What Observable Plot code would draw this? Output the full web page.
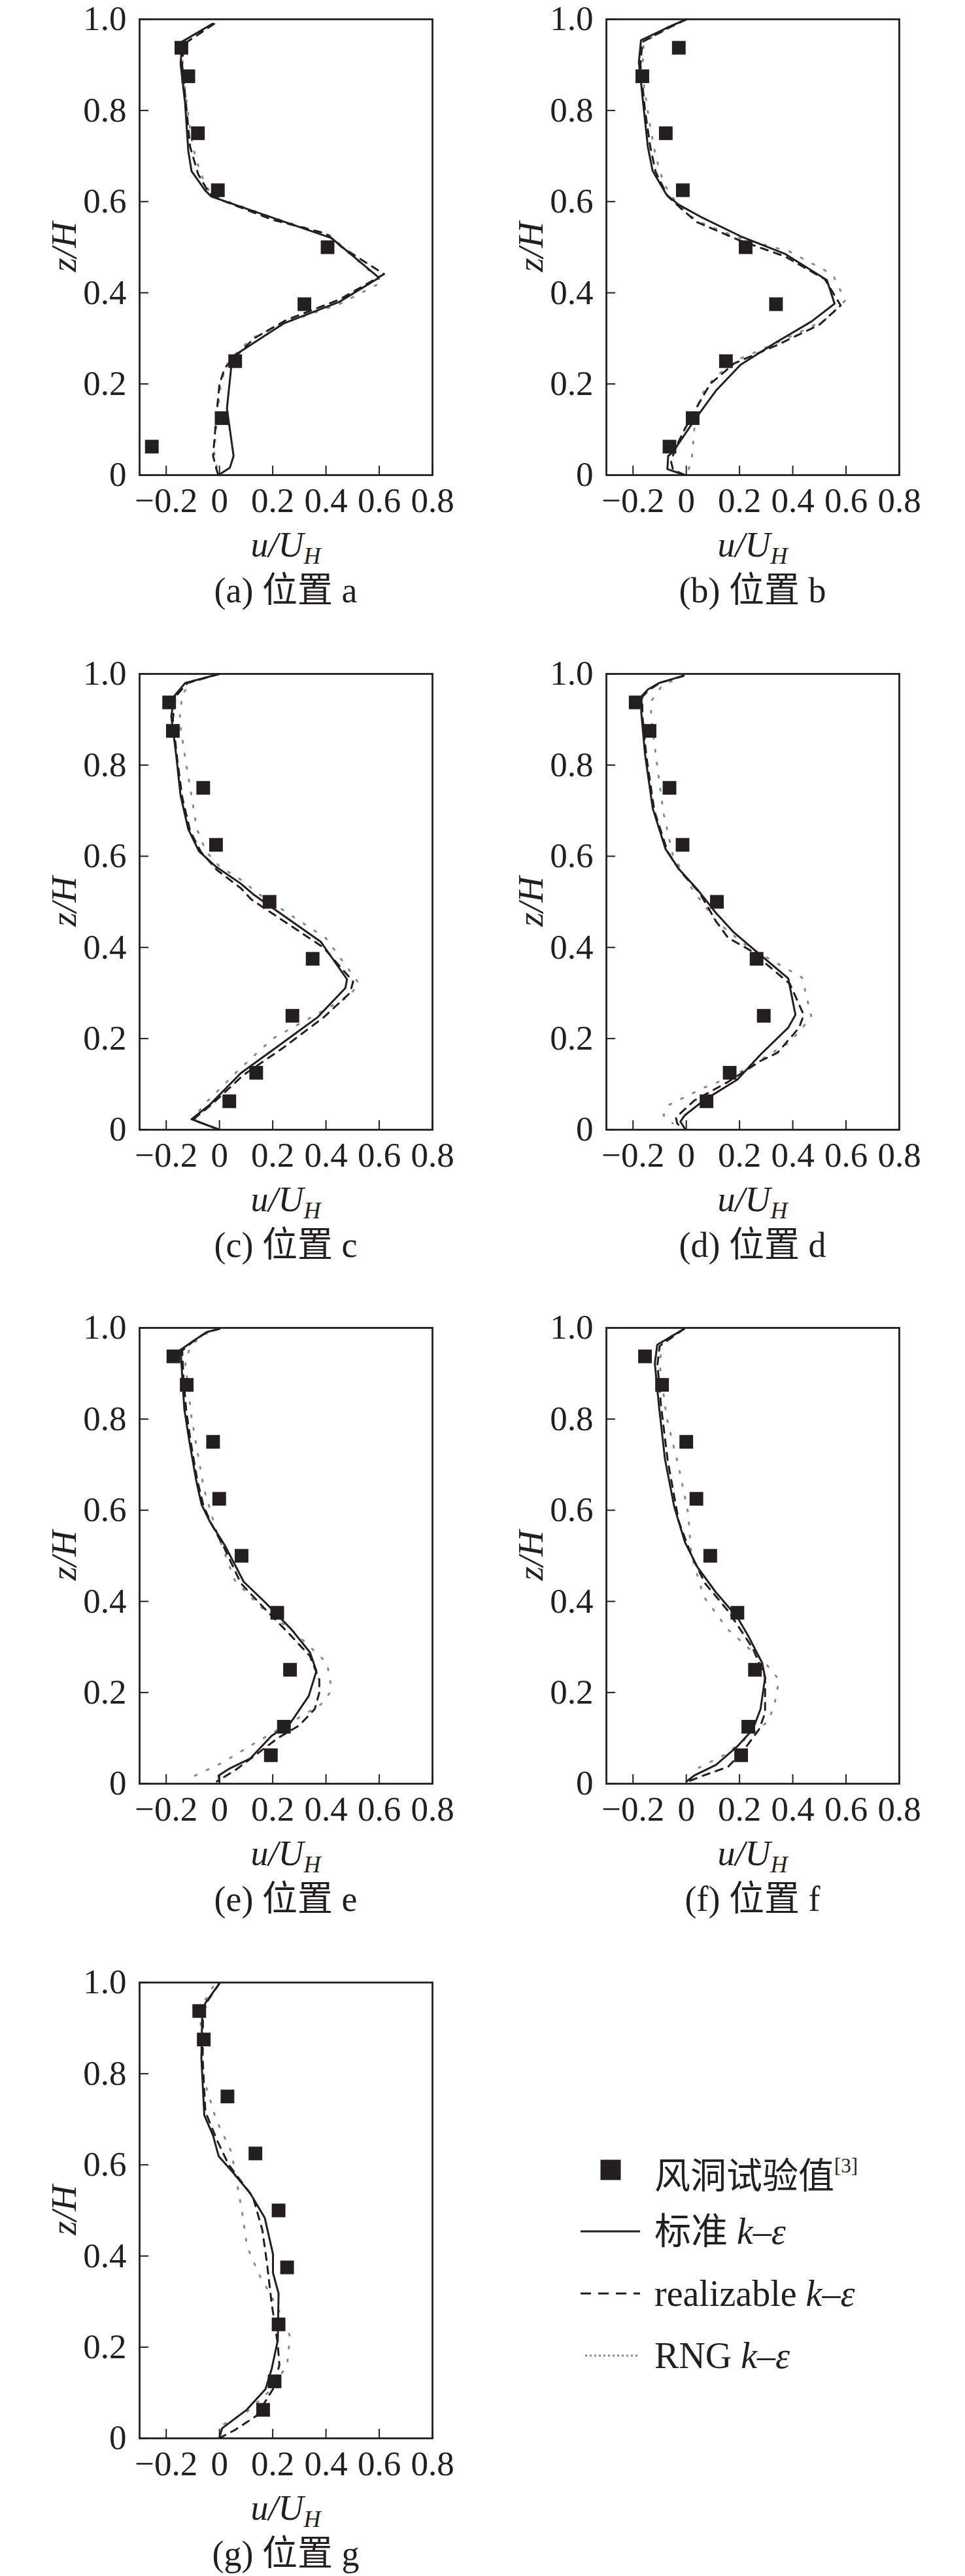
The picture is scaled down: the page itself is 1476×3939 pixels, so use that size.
<!DOCTYPE html>
<html><head><meta charset="utf-8">
<script src="https://cdn.jsdelivr.net/npm/d3@7"></script>
<script src="https://cdn.jsdelivr.net/npm/@observablehq/plot@0.6"></script>
<style>
body{margin:0;background:#fff;}
#wrap{position:relative;width:1476px;height:3939px;background:#fff;overflow:hidden;}
.panel{position:absolute;}
</style></head><body><div id="wrap"></div>
<script>
// ---------- ticks ----------
const xTicks = [-0.2, 0, 0.2, 0.4, 0.6, 0.8];
const xTickLabels = ["−0.2", "0", "0.2", "0.4", "0.6", "0.8"];
const yTicks = [0, 0.2, 0.4, 0.6, 0.8, 1.0];
const yTickLabels = ["0", "0.2", "0.4", "0.6", "0.8", "1.0"];

// ---------- panels ----------
const panelIds = ["a", "b", "c", "d", "e", "f", "g"];
const captions = ["(a) 位置 a", "(b) 位置 b", "(c) 位置 c", "(d) 位置 d", "(e) 位置 e", "(f) 位置 f", "(g) 位置 g"];
const legendLabels = ["风洞试验值", "标准", "realizable", "RNG"];

// ---------- wind tunnel data (z/H levels, u/U_H per position) ----------
const zExp = [0.0625, 0.125, 0.25, 0.375, 0.5, 0.625, 0.75, 0.875, 0.9375];
const exp_a = [-0.254, 0.008, 0.059, 0.319, 0.406, -0.006, -0.081, -0.117, -0.143];
const exp_b = [-0.063, 0.024, 0.149, 0.337, 0.223, -0.013, -0.077, -0.165, -0.028];
const exp_c = [0.037, 0.138, 0.274, 0.35, 0.188, -0.013, -0.061, -0.175, -0.189];
const exp_d = [0.076, 0.163, 0.291, 0.264, 0.115, -0.014, -0.063, -0.138, -0.19];
const exp_e = [0.193, 0.242, 0.265, 0.217, 0.083, -0.001, -0.024, -0.123, -0.173];
const exp_f = [0.206, 0.233, 0.258, 0.192, 0.09, 0.038, 0.0, -0.091, -0.155];
const exp_g = [0.164, 0.207, 0.222, 0.254, 0.222, 0.135, 0.03, -0.059, -0.076];

// ---------- simulated profiles [u/U_H, z/H] ----------
const std_a = [[-0.027,0.99],[-0.140,0.951],[-0.146,0.902],[-0.129,0.815],[-0.117,0.711],[-0.105,0.667],[-0.053,0.624],[-0.030,0.611],[0.421,0.52],[0.599,0.433],[0.45,0.38],[0.242,0.333],[0.057,0.263],[0.045,0.242],[0.028,0.146],[0.053,0.042],[0.039,0.016],[-0.004,0]];
const rlz_a = [[-0.02,0.99],[-0.135,0.945],[-0.14,0.9],[-0.12,0.78],[-0.11,0.72],[-0.08,0.66],[-0.04,0.62],[0.0,0.605],[0.2,0.56],[0.4,0.53],[0.46,0.5],[0.618,0.441],[0.45,0.385],[0.25,0.34],[0.13,0.3],[0.06,0.26],[0.02,0.235],[0.0,0.2],[-0.013,0.12],[-0.024,0.042],[-0.01,0.01],[-0.004,0]];
const rng_a = [[-0.025,0.99],[-0.135,0.945],[-0.14,0.9],[-0.115,0.78],[-0.1,0.72],[-0.07,0.66],[-0.04,0.625],[0.0,0.607],[0.2,0.565],[0.42,0.525],[0.48,0.49],[0.612,0.424],[0.45,0.375],[0.25,0.335],[0.12,0.3],[0.06,0.265],[0.025,0.24],[0.005,0.2],[-0.01,0.12],[-0.02,0.05],[-0.004,0]];

const std_b = [[0.001,1.0],[-0.063,0.984],[-0.170,0.954],[-0.178,0.906],[-0.161,0.811],[-0.144,0.719],[-0.126,0.667],[-0.074,0.615],[-0.028,0.593],[0.053,0.567],[0.204,0.524],[0.372,0.485],[0.528,0.428],[0.557,0.376],[0.47,0.337],[0.331,0.289],[0.204,0.242],[0.111,0.185],[0.030,0.12],[-0.051,0.05],[-0.068,0.042],[-0.071,0.013],[-0.005,0]];
const rlz_b = [[0.0,1.0],[-0.07,0.98],[-0.165,0.95],[-0.172,0.9],[-0.155,0.8],[-0.135,0.72],[-0.115,0.665],[-0.07,0.612],[-0.02,0.585],[0.04,0.555],[0.2,0.515],[0.37,0.48],[0.52,0.43],[0.58,0.372],[0.5,0.33],[0.34,0.285],[0.18,0.245],[0.09,0.2],[0.05,0.16],[-0.005,0.102],[-0.04,0.06],[-0.057,0.03],[-0.05,0.012],[-0.005,0]];
const rng_b = [[0.0,1.0],[-0.07,0.98],[-0.16,0.95],[-0.165,0.88],[-0.14,0.78],[-0.115,0.7],[-0.085,0.64],[-0.04,0.6],[0.0,0.575],[0.05,0.555],[0.2,0.52],[0.39,0.49],[0.55,0.44],[0.597,0.383],[0.52,0.34],[0.34,0.29],[0.18,0.25],[0.1,0.21],[0.05,0.17],[0.03,0.1],[0.02,0.03],[0.0,0]];

const std_c = [[0.0,1.0],[-0.129,0.98],[-0.169,0.952],[-0.181,0.907],[-0.163,0.824],[-0.146,0.733],[-0.117,0.659],[-0.077,0.611],[-0.013,0.577],[0.08,0.54],[0.126,0.517],[0.381,0.412],[0.479,0.33],[0.473,0.311],[0.369,0.247],[0.219,0.183],[0.08,0.124],[-0.036,0.055],[-0.105,0.023],[0.0,0.0]];
const rlz_c = [[0.0,1.0],[-0.12,0.98],[-0.165,0.95],[-0.175,0.9],[-0.16,0.82],[-0.14,0.73],[-0.11,0.655],[-0.07,0.61],[-0.01,0.57],[0.08,0.53],[0.12,0.505],[0.39,0.4],[0.502,0.325],[0.49,0.3],[0.392,0.247],[0.24,0.18],[0.09,0.12],[-0.03,0.055],[-0.1,0.022],[0.0,0]];
const rng_c = [[0.0,1.0],[-0.1,0.985],[-0.14,0.955],[-0.15,0.9],[-0.13,0.82],[-0.105,0.733],[-0.085,0.66],[-0.05,0.61],[0.0,0.578],[0.09,0.545],[0.14,0.52],[0.4,0.42],[0.525,0.32],[0.48,0.29],[0.37,0.255],[0.2,0.2],[0.07,0.13],[-0.05,0.06],[-0.1,0.025],[-0.01,0]];

const std_d = [[-0.01,0.996],[-0.103,0.98],[-0.144,0.966],[-0.169,0.95],[-0.169,0.916],[-0.155,0.824],[-0.126,0.705],[-0.078,0.616],[-0.028,0.572],[0.042,0.527],[0.111,0.476],[0.175,0.435],[0.239,0.403],[0.383,0.332],[0.41,0.252],[0.383,0.224],[0.279,0.165],[0.192,0.11],[0.065,0.064],[-0.005,0.032],[-0.022,0.018],[-0.005,0.002]];
const rlz_d = [[-0.01,0.996],[-0.1,0.98],[-0.14,0.965],[-0.165,0.95],[-0.165,0.91],[-0.15,0.82],[-0.12,0.7],[-0.07,0.61],[-0.02,0.565],[0.05,0.52],[0.111,0.458],[0.157,0.421],[0.239,0.394],[0.389,0.32],[0.441,0.252],[0.424,0.224],[0.343,0.169],[0.279,0.151],[0.157,0.105],[0.03,0.064],[-0.039,0.027],[-0.034,0.014],[-0.016,0.002]];
const rng_d = [[-0.01,0.996],[-0.09,0.975],[-0.132,0.94],[-0.132,0.907],[-0.115,0.824],[-0.086,0.696],[-0.051,0.604],[0.019,0.531],[0.111,0.458],[0.227,0.403],[0.435,0.334],[0.47,0.247],[0.389,0.192],[0.181,0.119],[0.065,0.092],[-0.063,0.055],[-0.086,0.032],[-0.051,0.014]];

const std_e = [[0,0.998],[-0.047,0.991],[-0.094,0.973],[-0.146,0.952],[-0.14,0.895],[-0.132,0.822],[-0.115,0.758],[-0.088,0.667],[-0.067,0.612],[-0.036,0.575],[0.022,0.521],[0.091,0.443],[0.173,0.397],[0.271,0.338],[0.34,0.288],[0.364,0.247],[0.335,0.192],[0.265,0.132],[0.196,0.105],[0.115,0.055],[0.034,0.032],[-0.003,0.018],[0.0,0.003]];
const rlz_e = [[0,0.998],[-0.05,0.99],[-0.1,0.97],[-0.14,0.95],[-0.135,0.89],[-0.125,0.82],[-0.108,0.75],[-0.083,0.665],[-0.06,0.61],[-0.03,0.57],[0.02,0.515],[0.08,0.44],[0.16,0.39],[0.26,0.33],[0.34,0.28],[0.375,0.228],[0.375,0.2],[0.358,0.164],[0.3,0.128],[0.219,0.1],[0.138,0.064],[0.06,0.03],[-0.01,0.005]];
const rng_e = [[0,0.998],[-0.06,0.985],[-0.11,0.96],[-0.128,0.922],[-0.105,0.804],[-0.059,0.648],[-0.013,0.557],[0.057,0.447],[0.15,0.39],[0.288,0.329],[0.404,0.265],[0.422,0.205],[0.381,0.174],[0.27,0.135],[0.138,0.091],[0.01,0.046],[-0.105,0.014]];

const std_f = [[-0.008,0.998],[-0.109,0.963],[-0.118,0.922],[-0.103,0.831],[-0.08,0.712],[-0.045,0.607],[-0.005,0.53],[0.042,0.475],[0.111,0.42],[0.192,0.365],[0.233,0.324],[0.285,0.265],[0.296,0.233],[0.279,0.164],[0.25,0.119],[0.192,0.082],[0.111,0.041],[0.03,0.018],[0.001,0.005]];
const rlz_f = [[-0.008,0.998],[-0.1,0.96],[-0.108,0.92],[-0.095,0.83],[-0.07,0.71],[-0.028,0.575],[0.02,0.5],[0.07,0.44],[0.157,0.379],[0.25,0.297],[0.296,0.233],[0.296,0.155],[0.273,0.119],[0.215,0.073],[0.157,0.037],[0.065,0.018],[0.007,0.005]];
const rng_f = [[-0.008,0.998],[-0.09,0.97],[-0.1,0.92],[-0.074,0.804],[-0.028,0.694],[0.007,0.594],[0.019,0.502],[0.065,0.411],[0.157,0.338],[0.296,0.265],[0.349,0.228],[0.331,0.174],[0.308,0.137],[0.146,0.064],[0.019,0.027]];

const std_g = [[0,0.998],[-0.053,0.955],[-0.065,0.924],[-0.068,0.834],[-0.057,0.709],[-0.024,0.664],[-0.003,0.619],[0.045,0.587],[0.115,0.538],[0.17,0.484],[0.201,0.404],[0.201,0.363],[0.222,0.318],[0.219,0.215],[0.196,0.152],[0.173,0.108],[0.103,0.063],[0.01,0.022],[0,0.002]];
const rlz_g = [[0,0.998],[-0.05,0.955],[-0.062,0.92],[-0.063,0.83],[-0.053,0.717],[-0.01,0.655],[0.034,0.601],[0.126,0.529],[0.161,0.457],[0.178,0.386],[0.196,0.296],[0.219,0.206],[0.225,0.161],[0.201,0.108],[0.138,0.049],[0.057,0.018],[0.005,0.002]];
const rng_g = [[-0.024,0.991],[-0.06,0.955],[-0.071,0.915],[-0.059,0.789],[-0.013,0.7],[0.045,0.628],[0.086,0.493],[0.103,0.422],[0.149,0.359],[0.184,0.323],[0.225,0.278],[0.265,0.224],[0.254,0.161],[0.196,0.108],[0.103,0.058],[-0.013,0.022]];

const expSeries = [exp_a, exp_b, exp_c, exp_d, exp_e, exp_f, exp_g];
const stdSeries = [std_a, std_b, std_c, std_d, std_e, std_f, std_g];
const rlzSeries = [rlz_a, rlz_b, rlz_c, rlz_d, rlz_e, rlz_f, rlz_g];
const rngSeries = [rng_a, rng_b, rng_c, rng_d, rng_e, rng_f, rng_g];

// ---------- styling ----------
const INK = "#231f20";
const GREY = "#8a8a8a";
const SERIF = "'Liberation Serif', 'Times New Roman', 'Noto Sans CJK SC', serif";
const W = 738, H = 1000, ML = 213, MR = 77, MT = 29, MB = 274;
const frameW = W - ML - MR, frameH = H - MT - MB;

const wrap = document.getElementById("wrap");

panelIds.forEach((id, i) => {
  const row = Math.floor(i / 2), col = i % 2;
  const expData = zExp.map((z, k) => ({u: expSeries[i][k], z}));
  const chart = Plot.plot({
    width: W, height: H,
    marginLeft: ML, marginRight: MR, marginTop: MT, marginBottom: MB,
    style: {fontFamily: SERIF, fontSize: "53px", color: INK, background: "transparent", overflow: "visible"},
    x: {domain: [-0.3, 0.8]},
    y: {domain: [0, 1]},
    marks: [
      Plot.axisX(xTicks, {tickSize: -14, tickPadding: 33, strokeWidth: 2, tickFormat: d => xTickLabels[xTicks.indexOf(d)], label: null, fontSize: 53}),
      Plot.axisY(yTicks, {tickSize: -14, tickPadding: 34, strokeWidth: 2, tickFormat: d => yTickLabels[yTicks.indexOf(d)], label: null, fontSize: 53}),
      Plot.line(rngSeries[i], {x: d => d[0], y: d => d[1], stroke: GREY, strokeWidth: 3, strokeDasharray: "3,17"}),
      Plot.line(rlzSeries[i], {x: d => d[0], y: d => d[1], stroke: INK, strokeWidth: 3, strokeDasharray: "11,10"}),
      Plot.line(stdSeries[i], {x: d => d[0], y: d => d[1], stroke: INK, strokeWidth: 3}),
      Plot.dot(expData, {x: "u", y: "z", symbol: "square", r: 11.8, fill: INK, stroke: null}),
      Plot.frame({stroke: INK, strokeWidth: 2.8})
    ]
  });
  chart.classList.add("panel");
  chart.style.left = (col * 714) + "px";
  chart.style.top = Math.round(row * 1000.7) + "px";
  const svg = d3.select(chart);
  const cx = ML + frameW / 2;
  // x label u/U_H
  const xl = svg.append("text").attr("x", cx).attr("y", 851).attr("text-anchor", "middle")
    .attr("fill", INK).style("font-family", SERIF).style("font-size", "54px").style("font-style", "italic");
  xl.append("tspan").text("u/U");
  xl.append("tspan").attr("dy", 11).style("font-size", "36px").text("H");
  // y label z/H
  svg.append("text").attr("transform", `translate(116,${MT + frameH / 2}) rotate(-90)`)
    .attr("text-anchor", "middle").attr("fill", INK)
    .style("font-family", SERIF).style("font-size", "55px").style("font-style", "italic").text("z/H");
  // caption
  svg.append("text").attr("x", cx).attr("y", 921).attr("text-anchor", "middle").attr("fill", INK)
    .style("font-family", SERIF).style("font-size", "54px").text(captions[i]);
  wrap.appendChild(chart);
});

// ---------- legend ----------
const leg = d3.select(wrap).append("svg").attr("class", "panel")
  .attr("width", 600).attr("height", 420)
  .style("left", "860px").style("top", "3260px");
const tx = 141;
leg.append("rect").attr("x", 58.5).attr("y", 42.5).attr("width", 31).attr("height", 31).attr("fill", INK);
const t0 = leg.append("text").attr("x", tx).attr("y", 86).attr("fill", INK).style("font-family", SERIF).style("font-size", "55px");
t0.append("tspan").text(legendLabels[0]);
t0.append("tspan").attr("dy", -24).style("font-size", "31px").text("[3]");

const rows = [
  {y: 152, dash: null, stroke: INK, x1: 28, x2: 119, w: 3},
  {y: 247, dash: "16,11", stroke: INK, x1: 28, x2: 119, w: 3},
  {y: 342, dash: "3,4", stroke: GREY, x1: 35, x2: 115, w: 3}
];
rows.forEach((r, k) => {
  const ln = leg.append("line").attr("x1", r.x1).attr("x2", r.x2).attr("y1", r.y).attr("y2", r.y)
    .attr("stroke", r.stroke).attr("stroke-width", r.w);
  if (r.dash) ln.attr("stroke-dasharray", r.dash);
  const t = leg.append("text").attr("x", tx).attr("y", r.y + 19).attr("fill", INK)
    .style("font-family", SERIF).style("font-size", "56px");
  t.append("tspan").text(legendLabels[k + 1] + " ");
  t.append("tspan").style("font-style", "italic").text("k");
  t.append("tspan").text("–");
  t.append("tspan").style("font-style", "italic").text("ε");
});
</script></body></html>
